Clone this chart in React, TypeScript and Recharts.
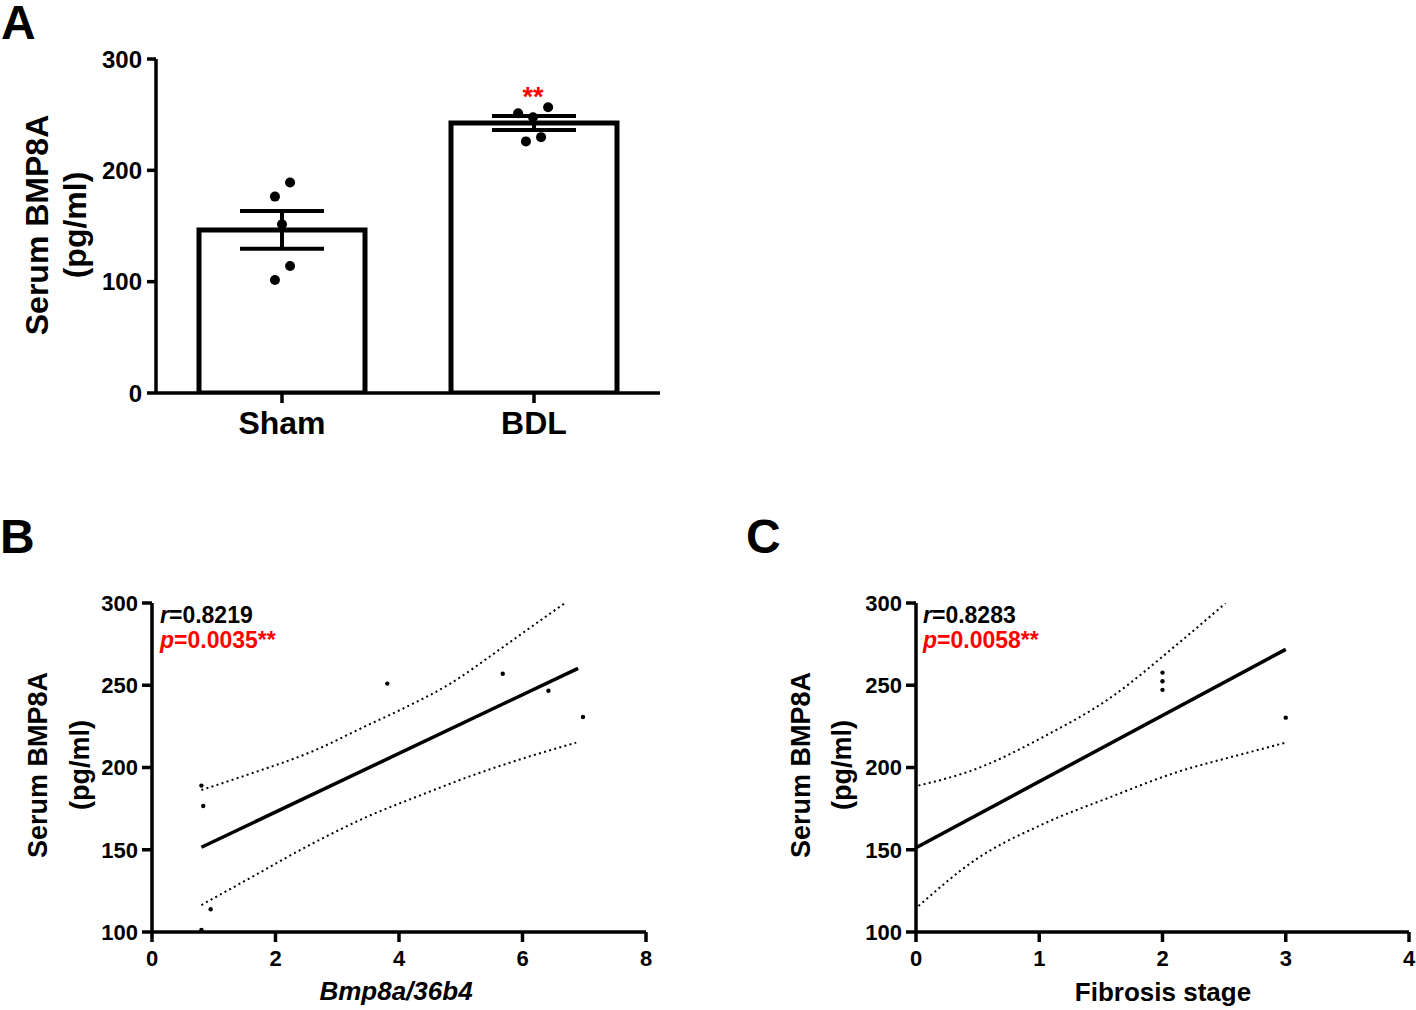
import React from "react";
import { ComposedChart, Bar, ErrorBar, Scatter, XAxis, YAxis } from "recharts";

const FONT = '"Liberation Sans", Arial, Helvetica, sans-serif';
const RED = "#ff0000";

// Panel A: serum BMP8A per group (mean ± SEM) plus single animals
const groups = ["Sham", "BDL"];
const groupX = [0.5, 1.5];
const groupMean = [146.5, 242.5];
const groupSem = [17, 6.3];

const shamX = [0.532, 0.472, 0.5, 0.532, 0.472];
const shamY = [189, 176.4, 151.6, 114, 101.5];
const bdlX = [1.437, 1.556, 1.496, 1.528, 1.468];
const bdlY = [251.3, 256.7, 247.7, 229.8, 226];

// Panel B: serum BMP8A vs hepatic Bmp8a/36b4
const bmpX = [0.8, 0.83, 0.95, 0.8, 3.81, 5.68, 6.42, 6.98];
const bmpY = [189, 176.6, 113.8, 101.2, 251, 257, 246.7, 230.7];
const bmpFitX = [0.8, 6.9];
const bmpFitY = [151.5, 260.3];
const bmpUpperX = [0.8, 1.53, 2.61, 3.48, 4.02, 4.83, 5.64, 6.18, 6.69];
const bmpUpperY = [186.3, 195.4, 210, 225.5, 235, 251, 272, 286.5, 300];
const bmpLowerX = [0.8, 1.53, 2.61, 3.48, 4.34, 5.1, 6.18, 6.87];
const bmpLowerY = [116.4, 131.6, 154, 170, 183, 194, 207.5, 215.1];

// Panel C: serum BMP8A vs fibrosis stage
const fibX = [2, 2, 2, 3];
const fibY = [257.7, 252.4, 247.2, 230.3];
const fibFitX = [0, 3];
const fibFitY = [151.3, 271.8];
const fibUpperX = [0.02, 0.49, 1.03, 1.57, 2.11, 2.51];
const fibUpperY = [189, 199.2, 218.5, 242, 274.3, 299.8];
const fibLowerX = [0.02, 0.49, 1.03, 1.57, 2.11, 2.65, 2.99];
const fibLowerY = [115.8, 144.3, 165.6, 181.8, 197, 208.2, 214.9];

const zip = (xs: number[], ys: number[]) => xs.map((x, i) => ({ x, y: ys[i] }));

const barData = groups.map((g, i) => ({ name: g, x: groupX[i], mean: groupMean[i], sem: groupSem[i] }));
const dotData = [...zip(shamX, shamY), ...zip(bdlX, bdlY)];

const axisStroke = { stroke: "#000", strokeWidth: 3.5 };
const noShape = () => <g />;

function BarPanel() {
  return (
    <div style={{ position: "absolute", left: 0, top: 0 }}>
      <ComposedChart
        width={700}
        height={470}
        data={barData}
        margin={{ top: 59, right: 40, bottom: 17, left: 96 }}
      >
        {/* bars sit on a hidden category axis, dots and ticks on the numeric one */}
        <XAxis xAxisId="cat" dataKey="name" type="category" hide height={0} />
        <XAxis
          xAxisId="num"
          dataKey="x"
          type="number"
          domain={[0, 2]}
          ticks={groupX}
          tickFormatter={(v: number) => groups[Math.round(v - 0.5)]}
          height={60}
          axisLine={axisStroke}
          tickLine={axisStroke}
          tickSize={10}
          tickMargin={8}
          tick={{ fill: "#000", fontSize: 32, fontWeight: 700 }}
        />
        <YAxis
          type="number"
          domain={[0, 300]}
          ticks={[0, 100, 200, 300]}
          width={60}
          allowDataOverflow
          axisLine={axisStroke}
          tickLine={axisStroke}
          tickSize={9}
          tickMargin={5}
          tick={{ fill: "#000", fontSize: 24, fontWeight: 700 }}
        />
        <Bar
          xAxisId="cat"
          dataKey="mean"
          barSize={166}
          fill="#fff"
          stroke="#000"
          strokeWidth={5}
          isAnimationActive={false}
        >
          <ErrorBar dataKey="sem" width={42} stroke="#000" strokeWidth={4} direction="y" />
        </Bar>
        <Scatter
          xAxisId="num"
          data={dotData}
          dataKey="y"
          isAnimationActive={false}
          shape={(p: any) => <circle cx={p.cx} cy={p.cy} r={5} fill="#000" />}
        />
      </ComposedChart>
    </div>
  );
}

interface CorrProps {
  left: number;
  width: number;
  marginLeft: number;
  marginRight: number;
  xMax: number;
  xTicks: number[];
  points: { x: number; y: number }[];
  fit: { x: number; y: number }[];
  upper: { x: number; y: number }[];
  lower: { x: number; y: number }[];
}

function CorrPanel({ left, width, marginLeft, marginRight, xMax, xTicks, points, fit, upper, lower }: CorrProps) {
  const band = { stroke: "#000", strokeWidth: 2, strokeDasharray: "2 3.3", fill: "none" };
  return (
    <div style={{ position: "absolute", left, top: 560 }}>
      <ComposedChart
        width={width}
        height={450}
        margin={{ top: 43, right: marginRight, bottom: 28, left: marginLeft }}
      >
        <XAxis
          dataKey="x"
          type="number"
          domain={[0, xMax]}
          ticks={xTicks}
          allowDataOverflow
          height={50}
          axisLine={axisStroke}
          tickLine={axisStroke}
          tickSize={10}
          tickMargin={8}
          tick={{ fill: "#000", fontSize: 22, fontWeight: 700 }}
        />
        <YAxis
          type="number"
          domain={[100, 300]}
          ticks={[100, 150, 200, 250, 300]}
          width={60}
          allowDataOverflow
          axisLine={axisStroke}
          tickLine={axisStroke}
          tickSize={10}
          tickMargin={4}
          tick={{ fill: "#000", fontSize: 22, fontWeight: 700 }}
        />
        <Scatter data={upper} dataKey="y" line={band} lineJointType="monotoneX" shape={noShape} isAnimationActive={false} />
        <Scatter data={lower} dataKey="y" line={band} lineJointType="monotoneX" shape={noShape} isAnimationActive={false} />
        <Scatter
          data={fit}
          dataKey="y"
          line={{ stroke: "#000", strokeWidth: 3.5 }}
          shape={noShape}
          isAnimationActive={false}
        />
        <Scatter
          data={points}
          dataKey="y"
          isAnimationActive={false}
          shape={(p: any) => <circle cx={p.cx} cy={p.cy} r={2.2} fill="#000" />}
        />
      </ComposedChart>
    </div>
  );
}

function YTitle({ x1, x2, y, size }: { x1: number; x2: number; y: number; size: number }) {
  return (
    <g fontSize={size} fontWeight={700} textAnchor="middle" fill="#000">
      <text transform={`translate(${x1},${y}) rotate(-90)`}>Serum BMP8A</text>
      <text transform={`translate(${x2},${y}) rotate(-90)`}>(pg/ml)</text>
    </g>
  );
}

function Stats({ x, r, p }: { x: number; r: string; p: string }) {
  return (
    <g fontSize={23} fontWeight={700}>
      <text x={x} y={623} fill="#000">
        <tspan fontStyle="italic">r</tspan>={r}
      </text>
      <text x={x} y={648} fill={RED}>
        <tspan fontStyle="italic">p</tspan>={p}**
      </text>
    </g>
  );
}

export default function App() {
  return (
    <div
      style={{
        position: "absolute",
        left: 0,
        top: 0,
        width: 1416,
        height: 1010,
        background: "#fff",
        fontFamily: FONT,
        overflow: "hidden",
      }}
    >
      <BarPanel />
      <CorrPanel
        left={0}
        width={700}
        marginLeft={92}
        marginRight={54}
        xMax={8}
        xTicks={[0, 2, 4, 6, 8]}
        points={zip(bmpX, bmpY)}
        fit={zip(bmpFitX, bmpFitY)}
        upper={zip(bmpUpperX, bmpUpperY)}
        lower={zip(bmpLowerX, bmpLowerY)}
      />
      <CorrPanel
        left={760}
        width={656}
        marginLeft={96}
        marginRight={7}
        xMax={4}
        xTicks={[0, 1, 2, 3, 4]}
        points={zip(fibX, fibY)}
        fit={zip(fibFitX, fibFitY)}
        upper={zip(fibUpperX, fibUpperY)}
        lower={zip(fibLowerX, fibLowerY)}
      />
      <svg
        width={1416}
        height={1010}
        style={{ position: "absolute", left: 0, top: 0, pointerEvents: "none", fontFamily: FONT }}
      >
        <g fontSize={48} fontWeight={700} fill="#000">
          <text x={1} y={39}>A</text>
          <text x={0} y={553}>B</text>
          <text x={746} y={553}>C</text>
        </g>
        <text x={533} y={106} fontSize={27} fontWeight={700} fill={RED} textAnchor="middle">**</text>
        <YTitle x1={48} x2={86} y={225} size={32} />
        <YTitle x1={47} x2={89} y={765} size={27} />
        <YTitle x1={810} x2={851} y={765} size={27} />
        <Stats x={160} r="0.8219" p="0.0035" />
        <Stats x={923} r="0.8283" p="0.0058" />
        <text x={396} y={1000} fontSize={26} fontWeight={700} fontStyle="italic" textAnchor="middle">
          Bmp8a/36b4
        </text>
        <text x={1163} y={1001} fontSize={26} fontWeight={700} textAnchor="middle">
          Fibrosis stage
        </text>
      </svg>
    </div>
  );
}
